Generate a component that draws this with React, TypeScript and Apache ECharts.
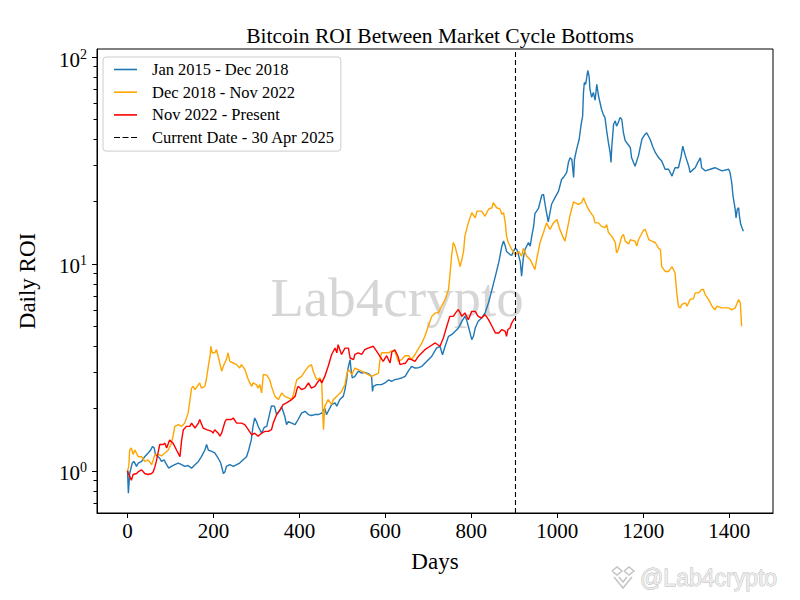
import React, { useEffect, useRef } from "react";
import * as echarts from "echarts";

const SERIF = '"Liberation Serif", "DejaVu Serif", serif';

const TITLE = "Bitcoin ROI Between Market Cycle Bottoms";
const NAME_2015 = "Jan 2015 - Dec 2018";
const NAME_2018 = "Dec 2018 - Nov 2022";
const NAME_2022 = "Nov 2022 - Present";
const NAME_NOW = "Current Date - 30 Apr 2025";

// days since cycle bottom -> ROI multiple
const cycle2015: [number, number][] = [
  [0, 1.0], [2, 0.78], [5, 0.97], [11, 1.09], [15, 1.11], [21, 1.05], [25, 1.09], [33, 1.11],
  [40, 1.17], [48, 1.22], [54, 1.26], [58, 1.31], [62, 1.29], [65, 1.2], [71, 1.17], [75, 1.15],
  [79, 1.11], [85, 1.13], [91, 1.07], [96, 1.03], [102, 1.05], [110, 1.07], [118, 1.09], [126, 1.07],
  [133, 1.05], [141, 1.06], [149, 1.03], [157, 1.07], [165, 1.11], [172, 1.17], [180, 1.26], [184, 1.34],
  [188, 1.26], [196, 1.24], [203, 1.22], [211, 1.15], [217, 1.09], [223, 0.97], [227, 0.99], [230, 1.05],
  [238, 1.07], [246, 1.05], [254, 1.07], [261, 1.09], [269, 1.13], [277, 1.17], [282, 1.26], [288, 1.41],
  [292, 1.64], [296, 1.8], [300, 1.73], [304, 1.64], [308, 1.58], [312, 1.52], [318, 1.62], [324, 1.64],
  [331, 1.9], [335, 2.06], [342, 2.05], [347, 1.87], [355, 1.97], [359, 2.03], [366, 1.83], [370, 1.67],
  [374, 1.73], [382, 1.7], [390, 1.67], [397, 1.77], [405, 1.9], [413, 1.94], [421, 1.87], [428, 1.85],
  [436, 1.87], [444, 1.87], [452, 1.9], [459, 2.01], [463, 1.87], [467, 1.94], [475, 2.09], [483, 2.13],
  [487, 2.05], [494, 2.21], [502, 2.29], [506, 2.47], [510, 2.76], [512, 3.03], [515, 3.26], [518, 3.45],
  [520, 3.09], [523, 2.81], [529, 2.86], [537, 3.03], [545, 2.97], [552, 2.99], [560, 2.95], [568, 2.86],
  [570, 2.42], [572, 2.56], [580, 2.61], [591, 2.61], [599, 2.66], [607, 2.75], [615, 2.71], [622, 2.76],
  [630, 2.78], [638, 2.81], [646, 2.86], [654, 3.05], [661, 3.2], [669, 3.14], [677, 3.15], [685, 3.2],
  [696, 3.38], [708, 3.58], [719, 3.92], [727, 4.0], [733, 3.64], [739, 4.0], [747, 4.47], [754, 4.55],
  [762, 4.72], [770, 4.9], [778, 5.28], [785, 5.58], [789, 5.38], [793, 5.0], [797, 4.64], [801, 4.31],
  [805, 4.47], [809, 4.9], [816, 5.28], [824, 5.48], [832, 5.8], [840, 6.49], [848, 7.52], [856, 8.73],
  [864, 10.2], [867, 11.0], [871, 12.2], [875, 12.9], [879, 12.2], [882, 11.5], [890, 11.1], [894, 11.0],
  [898, 11.5], [902, 11.9], [906, 11.75], [910, 11.0], [914, 10.2], [917, 8.73], [921, 10.7], [925, 11.75],
  [933, 12.7], [937, 12.2], [941, 13.8], [945, 15.2], [948, 17.5], [956, 18.5], [964, 21.5], [968, 21.7],
  [971, 19.8], [975, 17.7], [979, 16.0], [983, 17.7], [987, 19.5], [995, 21.0], [1003, 22.5], [1010, 25.6],
  [1016, 26.5], [1022, 27.7], [1026, 31], [1030, 32.6], [1034, 32.0], [1038, 26.2], [1040, 32.0], [1045, 35.8],
  [1051, 40.1], [1055, 46.4], [1059, 51.9], [1061, 67.5], [1063, 75.4], [1066, 73.8], [1071, 86.2], [1074, 81],
  [1076, 70], [1080, 64.0], [1084, 67.5], [1088, 61.9], [1092, 73.8], [1096, 64.9], [1103, 56], [1107, 52.9],
  [1111, 51], [1115, 44], [1119, 38.6], [1123, 34.6], [1125, 31], [1127, 37.1], [1131, 47.4], [1135, 49.2],
  [1138, 46.4], [1142, 48.3], [1146, 51.0], [1150, 50.1], [1154, 43.1], [1158, 39.5], [1166, 37.5], [1170, 36.5],
  [1173, 32.6], [1181, 29.7], [1189, 33.4], [1197, 40.1], [1203, 42], [1208, 43.1], [1216, 40.1], [1222, 37],
  [1228, 34.6], [1236, 32.6], [1243, 31.5], [1251, 28.7], [1259, 28.7], [1267, 26.6], [1274, 29.2], [1282, 29.2],
  [1288, 33], [1292, 37.1], [1298, 33.4], [1306, 29.7], [1309, 27.7], [1315, 28.5], [1321, 29.2], [1327, 31],
  [1333, 32.6], [1336, 29.2], [1344, 28.2], [1356, 28.7], [1367, 29.2], [1383, 28.2], [1399, 28.7], [1402, 27.7],
  [1406, 24.7], [1409, 21.3], [1414, 18.4], [1416, 16.7], [1419, 18.4], [1422, 18.7], [1424, 17.0], [1427, 15.5],
  [1433, 14.4],
];

const cycle2018: [number, number][] = [
  [0, 1.0], [3, 1.05], [5, 1.26], [9, 1.29], [13, 1.2], [17, 1.26], [25, 1.17], [33, 1.17],
  [40, 1.11], [48, 1.13], [56, 1.07], [60, 1.13], [64, 1.2], [71, 1.2], [79, 1.18], [87, 1.22],
  [95, 1.26], [102, 1.36], [106, 1.47], [110, 1.64], [118, 1.67], [126, 1.64], [133, 1.7], [141, 1.9],
  [145, 2.17], [149, 2.51], [153, 2.56], [157, 2.47], [165, 2.61], [168, 2.66], [172, 2.51], [180, 2.56],
  [184, 2.81], [188, 3.2], [192, 3.58], [194, 4.0], [197, 3.72], [203, 3.72], [207, 3.85], [211, 3.58],
  [219, 3.03], [223, 3.2], [230, 3.45], [234, 3.72], [238, 3.38], [246, 3.32], [254, 3.26], [261, 3.14],
  [265, 3.26], [273, 3.09], [281, 2.76], [289, 2.56], [292, 2.66], [300, 2.61], [304, 2.51], [308, 2.61],
  [312, 2.38], [316, 2.92], [324, 2.9], [331, 2.75], [335, 2.56], [343, 2.29], [351, 2.21], [359, 2.38],
  [366, 2.29], [374, 2.25], [382, 2.21], [386, 2.33], [390, 2.56], [394, 2.76], [405, 2.86], [413, 3.03],
  [421, 3.2], [428, 3.26], [432, 3.03], [440, 2.76], [448, 2.81], [452, 2.66], [454, 1.97], [456, 1.58],
  [458, 1.9], [459, 2.05], [467, 2.21], [475, 2.09], [479, 2.21], [487, 2.29], [498, 2.42], [506, 2.61],
  [510, 2.92], [514, 3.09], [522, 2.92], [529, 3.14], [545, 3.03], [560, 2.92], [568, 2.86], [584, 2.97],
  [587, 3.38], [591, 3.72], [599, 3.72], [607, 3.72], [615, 3.8], [622, 3.8], [630, 3.38], [638, 3.45],
  [646, 3.6], [654, 3.6], [661, 3.45], [669, 3.65], [677, 3.9], [685, 4.15], [692, 4.47], [700, 5.0],
  [708, 5.58], [716, 5.8], [723, 5.8], [731, 6.25], [739, 6.73], [747, 7.52], [750, 8.73], [754, 10.9],
  [758, 12.7], [762, 12.2], [770, 10.5], [774, 9.7], [778, 10.5], [782, 11.5], [785, 13.6], [793, 15.8],
  [801, 17.7], [809, 16.7], [813, 18.0], [824, 18.0], [832, 17.0], [840, 18.4], [848, 18.7], [851, 19.8],
  [859, 18.7], [867, 18.4], [871, 17.4], [875, 17.7], [879, 15.8], [882, 13.6], [886, 12.7], [894, 11.75],
  [902, 11.1], [910, 11.5], [917, 10.9], [921, 11.9], [929, 10.9], [937, 10.5], [945, 9.7], [948, 9.4],
  [952, 10.5], [960, 12.7], [968, 14.2], [975, 15.8], [983, 14.7], [991, 15.8], [999, 16.4], [1006, 14.7],
  [1014, 13.4], [1018, 12.9], [1022, 14.2], [1030, 17.3], [1038, 20.0], [1041, 19.8], [1049, 19.4], [1057, 19.8],
  [1061, 20.9], [1069, 19.0], [1076, 17.9], [1084, 17.0], [1088, 15.8], [1096, 15.8], [1103, 15.2], [1111, 15.0],
  [1115, 15.5], [1119, 14.2], [1127, 13.6], [1135, 12.7], [1138, 11.3], [1142, 11.75], [1150, 13.6], [1154, 13.9],
  [1158, 12.9], [1166, 12.5], [1170, 13.1], [1181, 12.9], [1185, 12.2], [1189, 13.1], [1201, 14.6], [1205, 14.7],
  [1213, 13.1], [1220, 12.9], [1228, 12.7], [1236, 11.9], [1240, 11.75], [1243, 9.7], [1251, 9.2], [1259, 9.2],
  [1267, 9.7], [1274, 9.07], [1278, 7.25], [1282, 6.25], [1286, 6.13], [1290, 6.37], [1298, 6.49], [1302, 6.25],
  [1309, 6.73], [1317, 6.8], [1321, 7.25], [1329, 7.25], [1336, 7.52], [1340, 7.52], [1344, 7.13], [1352, 6.73],
  [1360, 6.25], [1367, 6.0], [1371, 6.25], [1383, 6.13], [1399, 6.13], [1406, 6.0], [1414, 6.13], [1422, 6.73],
  [1426, 6.49], [1429, 5.0],
];

const cycle2022: [number, number][] = [
  [0, 1.0], [2, 0.97], [5, 0.94], [9, 0.9], [13, 0.96], [21, 0.97], [25, 0.99], [33, 1.01],
  [40, 0.97], [48, 0.96], [56, 0.97], [60, 0.99], [64, 1.05], [67, 1.11], [71, 1.22], [75, 1.34],
  [83, 1.34], [87, 1.36], [91, 1.29], [98, 1.41], [106, 1.36], [114, 1.26], [122, 1.17], [126, 1.41],
  [130, 1.58], [137, 1.64], [145, 1.64], [149, 1.7], [157, 1.61], [165, 1.7], [168, 1.77], [176, 1.61],
  [184, 1.58], [196, 1.55], [199, 1.52], [203, 1.58], [211, 1.52], [215, 1.47], [219, 1.52], [227, 1.73],
  [230, 1.77], [242, 1.77], [246, 1.8], [254, 1.7], [265, 1.7], [273, 1.67], [281, 1.58], [289, 1.49],
  [296, 1.52], [304, 1.47], [312, 1.52], [320, 1.55], [328, 1.55], [335, 1.58], [339, 1.7], [347, 1.87],
  [355, 1.97], [362, 2.09], [370, 2.13], [382, 2.21], [390, 2.29], [394, 2.47], [397, 2.56], [405, 2.47],
  [413, 2.51], [421, 2.66], [428, 2.51], [436, 2.56], [444, 2.71], [448, 2.76], [452, 2.66], [459, 2.86],
  [467, 3.2], [475, 3.65], [483, 3.92], [487, 3.72], [490, 4.07], [498, 3.65], [506, 3.92], [514, 3.92],
  [518, 3.51], [526, 3.45], [529, 3.65], [537, 3.72], [545, 3.65], [552, 3.85], [560, 3.92], [572, 4.0],
  [580, 3.78], [587, 3.58], [595, 3.38], [603, 3.6], [611, 3.32], [615, 3.75], [622, 3.85], [630, 3.55],
  [634, 3.26], [642, 3.3], [646, 3.3], [654, 3.48], [661, 3.45], [669, 3.38], [677, 3.58], [692, 3.85],
  [704, 4.0], [716, 4.15], [727, 4.0], [735, 4.39], [743, 5.0], [750, 5.58], [758, 5.58], [766, 5.9],
  [770, 6.02], [778, 5.58], [785, 5.8], [793, 5.38], [801, 5.9], [809, 5.9], [816, 5.58], [824, 5.48],
  [832, 5.69], [840, 5.38], [848, 5.0], [856, 4.64], [864, 4.64], [871, 4.82], [879, 4.72], [882, 4.47],
  [885, 4.82], [890, 4.9], [894, 5.18], [901, 5.48],
];

const CURRENT_DAY = 902;

const X_TICKS = [0, 200, 400, 600, 800, 1000, 1200, 1400];
const Y_MAJOR = [1, 10, 100];
const Y_MINOR = [0.7, 0.8, 0.9, 2, 3, 4, 5, 6, 7, 8, 9, 20, 30, 40, 50, 60, 70, 80, 90];

const X_MIN = -71;
const X_MAX = 1502;
const Y_MIN = 0.625;
const Y_MAX = 109.5;

export default function App() {
  const chartRef = useRef<HTMLDivElement>(null);

  useEffect(() => {
    document.body.style.margin = "0";
    if (!chartRef.current) return;
    const chart = echarts.init(chartRef.current, undefined, { renderer: "svg" });

    const lineSeries = (name: string, data: [number, number][], color: string, z: number) => ({
      name,
      type: "line" as const,
      data,
      showSymbol: false,
      symbol: "none",
      color,
      z,
      lineStyle: { width: 1.4, color },
      emphasis: { disabled: true },
    });

    const option: any = {
      animation: false,
      backgroundColor: "#ffffff",
      title: {
        text: TITLE,
        left: 435,
        top: 20,
        textAlign: "center",
        textStyle: { fontFamily: SERIF, fontSize: 21.5, fontWeight: "normal", color: "#000" },
      },
      grid: {
        left: 97,
        right: 27,
        top: 49,
        bottom: 87,
        show: true,
        borderColor: "#000",
        borderWidth: 1,
        backgroundColor: "transparent",
      },
      legend: {
        orient: "vertical",
        left: 103,
        top: 57,
        padding: [4, 6, 5, 11],
        itemWidth: 23,
        itemHeight: 1.6,
        itemGap: 5.7,
        backgroundColor: "rgba(255,255,255,0.8)",
        borderColor: "#cccccc",
        borderWidth: 1,
        borderRadius: 3,
        itemStyle: { borderWidth: 0 },
        textStyle: { fontFamily: SERIF, fontSize: 16.5, color: "#000", lineHeight: 16, padding: [0, 0, 0, 10] },
        data: [
          { name: NAME_2015, icon: "rect" },
          { name: NAME_2018, icon: "rect" },
          { name: NAME_2022, icon: "rect" },
          { name: NAME_NOW, icon: "path://M0,0h6v1h-6z M8.5,0h6v1h-6z M17,0h6v1h-6z" },
        ],
      },
      xAxis: {
        type: "value",
        min: X_MIN,
        max: X_MAX,
        name: "Days",
        nameLocation: "middle",
        nameGap: 37,
        nameTextStyle: { fontFamily: SERIF, fontSize: 23, color: "#000" },
        axisLine: { show: true, onZero: false, lineStyle: { color: "#000", width: 1 } },
        axisTick: { show: true, length: 5, customValues: X_TICKS, lineStyle: { color: "#000", width: 1 } },
        axisLabel: {
          customValues: X_TICKS,
          formatter: (v: number) => String(v),
          fontFamily: SERIF,
          fontSize: 21,
          color: "#000",
          margin: 7,
        },
        splitLine: { show: false },
      },
      yAxis: [
        {
          type: "log",
          logBase: 10,
          min: Y_MIN,
          max: Y_MAX,
          name: "Daily ROI",
          nameLocation: "middle",
          nameGap: 58,
          nameTextStyle: { fontFamily: SERIF, fontSize: 23, color: "#000" },
          axisLine: { show: true, onZero: false, lineStyle: { color: "#000", width: 1 } },
          axisTick: { show: true, length: 5, customValues: Y_MAJOR, lineStyle: { color: "#000", width: 1 } },
          axisLabel: {
            customValues: Y_MAJOR,
            margin: 10,
            color: "#000",
            formatter: (v: number) => `{b|10}{s|${Math.round(Math.log10(v))}}`,
            rich: {
              b: { fontFamily: SERIF, fontSize: 21, color: "#000", lineHeight: 20, padding: [5, 0, 0, 0] },
              s: { fontFamily: SERIF, fontSize: 14, color: "#000", verticalAlign: "top", lineHeight: 14 },
            },
          },
          splitLine: { show: false },
        },
        {
          type: "log",
          logBase: 10,
          min: Y_MIN,
          max: Y_MAX,
          position: "left",
          axisLine: { show: false, onZero: false },
          axisLabel: { show: false },
          axisTick: { show: true, length: 3.5, customValues: Y_MINOR, lineStyle: { color: "#000", width: 1 } },
          splitLine: { show: false },
        },
      ],
      graphic: [
        {
          type: "text",
          x: 397,
          y: 297,
          z: 0,
          silent: true,
          style: {
            text: "Lab4crypto",
            fontFamily: SERIF,
            fontSize: 55,
            fill: "rgba(180,180,180,0.55)",
            align: "center",
            verticalAlign: "middle",
          },
        },
        {
          type: "group",
          x: 612,
          y: 567,
          silent: true,
          children: [
            { type: "polyline", shape: { points: [[0, 4], [5, 0], [10, 4], [5, 8], [0, 4]] }, style: { stroke: "#c4c4c4", fill: "none", lineWidth: 1.5 } },
            { type: "polyline", shape: { points: [[12, 4], [17, 0], [22, 4], [17, 8], [12, 4]] }, style: { stroke: "#c4c4c4", fill: "none", lineWidth: 1.5 } },
            { type: "polyline", shape: { points: [[2, 10], [11, 21], [20, 10]] }, style: { stroke: "#c4c4c4", fill: "none", lineWidth: 1.5 } },
            { type: "polyline", shape: { points: [[7, 10], [11, 15], [15, 10]] }, style: { stroke: "#c4c4c4", fill: "none", lineWidth: 1.5 } },
            {
              type: "text",
              x: 28,
              y: 11,
              style: {
                text: "@Lab4crypto",
                fontFamily: '"Liberation Sans", "DejaVu Sans", sans-serif',
                fontSize: 23,
                fill: "#ececec",
                stroke: "#b5b5b5",
                lineWidth: 0.8,
                verticalAlign: "middle",
              },
            },
          ],
        },
      ],
      series: [
        lineSeries(NAME_2015, cycle2015, "#1f77b4", 3),
        lineSeries(NAME_2018, cycle2018, "#ffa500", 4),
        {
          ...lineSeries(NAME_2022, cycle2022, "#ff0000", 5),
          markLine: {
            silent: true,
            symbol: "none",
            label: { show: false },
            lineStyle: { color: "#000", type: [5, 3], width: 1.1 },
            data: [{ xAxis: CURRENT_DAY }],
          },
        },
        {
          name: NAME_NOW,
          type: "line",
          data: [],
          color: "#000",
          lineStyle: { color: "#000", type: "dashed" },
        },
      ],
    };

    chart.setOption(option);
    return () => chart.dispose();
  }, []);

  return <div ref={chartRef} style={{ width: 800, height: 600 }} />;
}
